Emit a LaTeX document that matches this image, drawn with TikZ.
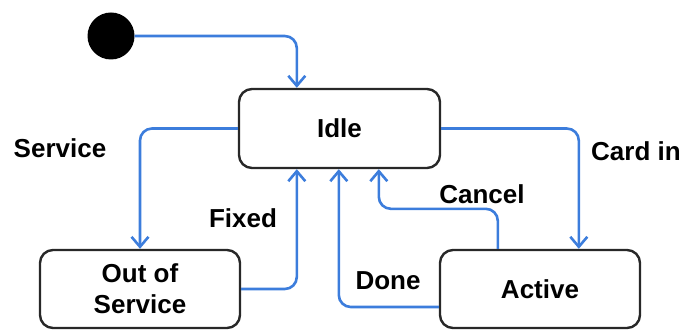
\documentclass[tikz,border=0pt]{standalone}
\usepackage{fontspec}
\setmainfont{Liberation Sans}
\usetikzlibrary{arrows.meta}
\definecolor{flowblue}{RGB}{60,125,220}
\definecolor{boxgray}{RGB}{40,40,40}
\begin{document}
\begin{tikzpicture}[x=1pt, y=-1pt,
    font=\fontsize{26}{31}\selectfont\bfseries,
    state/.style={draw=boxgray, line width=2.4pt, rounded corners=13pt,
        minimum width=200pt, minimum height=78pt, align=center},
    flow/.style={draw=flowblue, line width=2.6pt, rounded corners=12pt,
        -{Straight Barb[length=10pt, width=17pt]}}]
    \useasboundingbox (0,0) rectangle (687,331);

    % Initial point and states
    \node[circle, fill=black, minimum size=47pt, inner sep=0pt] (init) at (111,36) {};
    \node[state, minimum width=201pt, minimum height=79pt] (idle) at (339.5,128.5) {Idle};
    \node[state] (oos) at (140,289) {Out of\\Service};
    \node[state] (active) at (540,289) {Active};

    % Transitions
    \draw[flow] (init.east) -| ([xshift=59pt]idle.north west);
    \draw[flow] (idle.west) -| (oos.north);
    \draw[flow] (idle.east) -| ([xshift=140pt]active.north west);
    \draw[flow] (oos.east) -| ([xshift=59pt]idle.south west);
    \draw[flow] ([yshift=-18pt]active.west) -| ([xshift=101pt]idle.south west);
    \draw[flow] ([xshift=59pt]active.north west) -- ++(0,-40) -| ([xshift=141pt]idle.south west);

    % Transition labels
    \node (lservice) at (60,148) {Service};
    \node (lcard) at (636,151) {Card in};
    \node (lfixed) at (243,218) {Fixed};
    \node (lcancel) at (482,194) {Cancel};
    \node (ldone) at (388,281) {Done};
\end{tikzpicture}
\end{document}
